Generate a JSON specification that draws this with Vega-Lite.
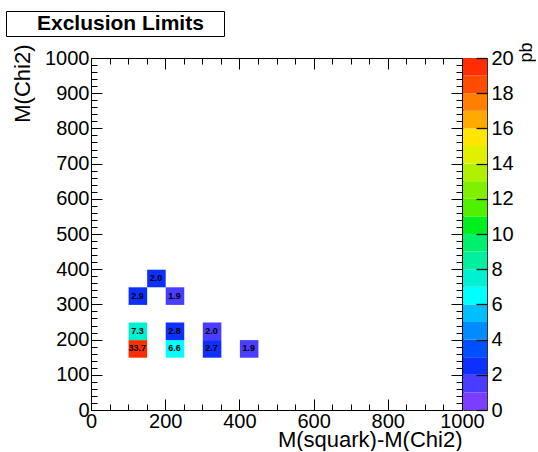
{
  "$schema": "https://vega.github.io/schema/vega-lite/v6.json",
  "background": "white",
  "padding": {"left": 5, "top": 10, "right": 0, "bottom": 0},
  "config": {
    "view": {"stroke": "black", "strokeWidth": 1},
    "font": "Liberation Sans",
    "axis": {
      "grid": false,
      "domain": false,
      "tickColor": "black",
      "tickWidth": 1,
      "labelColor": "black",
      "titleColor": "black",
      "labelFont": "Liberation Sans",
      "titleFont": "Liberation Sans",
      "titleFontWeight": "normal",
      "labelFontSize": 20,
      "titleFontSize": 22,
      "labelOverlap": false,
      "labelFlush": false,
      "format": "d"
    }
  },
  "bounds": "flush",
  "spacing": 1,
  "hconcat": [
    {
      "width": 371,
      "height": 352,
      "view": {"stroke": "black", "strokeWidth": 1},
      "data": {"values": [
        {"mx": 125, "my": 175, "v": 33.7},
        {"mx": 125, "my": 225, "v": 7.3},
        {"mx": 225, "my": 175, "v": 6.6},
        {"mx": 225, "my": 225, "v": 2.8},
        {"mx": 325, "my": 175, "v": 2.7},
        {"mx": 325, "my": 225, "v": 1.97},
        {"mx": 425, "my": 175, "v": 1.9},
        {"mx": 125, "my": 325, "v": 2.9},
        {"mx": 175, "my": 375, "v": 2.03},
        {"mx": 225, "my": 325, "v": 1.9}
      ]},
      "layer": [
        {
          "mark": {"type": "rect", "binSpacing": 0},
          "encoding": {
            "x": {
              "field": "mx", "type": "quantitative",
              "bin": {"step": 50, "extent": [0, 1000]},
              "scale": {"domain": [0, 1000], "nice": false, "zero": false},
              "axis": {
                "orient": "bottom",
                "domain": true,
                "domainColor": "black",
                "title": "M(squark)-M(Chi2)",
                "titleAnchor": "end",
                "titlePadding": -7,
                "values": [0,50,100,150,200,250,300,350,400,450,500,550,600,650,700,750,800,850,900,950,1000],
                "tickSize": {"condition": {"test": "datum.value % 200 === 0", "value": -11}, "value": -6},
                "labelExpr": "datum.value % 200 === 0 ? datum.label : ''",
                "labelPadding": 12
              }
            },
            "y": {
              "field": "my", "type": "quantitative",
              "bin": {"step": 50, "extent": [0, 1000]},
              "scale": {"domain": [0, 1000], "nice": false, "zero": false},
              "axis": {
                "orient": "left",
                "domain": true,
                "domainColor": "black",
                "title": "M(Chi2)",
                "titleAnchor": "end",
                "titleY": -14,
                "titlePadding": 10,
                "values": [0,20,40,60,80,100,120,140,160,180,200,220,240,260,280,300,320,340,360,380,400,420,440,460,480,500,520,540,560,580,600,620,640,660,680,700,720,740,760,780,800,820,840,860,880,900,920,940,960,980,1000],
                "tickSize": {"condition": {"test": "datum.value % 100 === 0", "value": -11}, "value": -6},
                "labelExpr": "datum.value % 100 === 0 ? datum.label : ''",
                "labelPadding": 13
              }
            },
            "color": {
              "field": "v", "type": "quantitative",
              "scale": {
                "type": "threshold",
                "domain": [1,2,3,4,5,6,7,8,9,10,11,12,13,14,15,16,17,18,19],
                "range": ["#7b3dff","#4b3dff","#0d30ff","#0050ff","#008cff","#00bfff","#00ffff","#00f0d2","#00f0a0","#00f06e","#00f01e","#50f000","#80f000","#b0f000","#e0f000","#ffe600","#ffaa00","#ff8000","#ff4c00","#ff2d00"]
              },
              "legend": null
            }
          }
        },
        {
          "mark": {"type": "text", "fontSize": 9, "fontWeight": "bold", "font": "Liberation Sans"},
          "encoding": {
            "x": {
              "field": "mx", "type": "quantitative",
              "scale": {"domain": [0, 1000], "nice": false, "zero": false},
              "axis": {
                "orient": "top",
                "domain": true,
                "domainColor": "black",
                "title": null,
                "labels": false,
                "values": [0,50,100,150,200,250,300,350,400,450,500,550,600,650,700,750,800,850,900,950,1000],
                "tickSize": {"condition": {"test": "datum.value % 200 === 0", "value": -11}, "value": -6}
              }
            },
            "y": {
              "field": "my", "type": "quantitative",
              "scale": {"domain": [0, 1000], "nice": false, "zero": false},
              "axis": {
                "orient": "right",
                "domain": true,
                "domainColor": "black",
                "title": null,
                "labels": false,
                "values": [0,20,40,60,80,100,120,140,160,180,200,220,240,260,280,300,320,340,360,380,400,420,440,460,480,500,520,540,560,580,600,620,640,660,680,700,720,740,760,780,800,820,840,860,880,900,920,940,960,980,1000],
                "tickSize": {"condition": {"test": "datum.value % 100 === 0", "value": -11}, "value": -6}
              }
            },
            "text": {"field": "v", "type": "quantitative", "format": ".1f"},
            "color": {
              "datum": "Exclusion Limits",
              "type": "nominal",
              "scale": {"range": ["black"]},
              "legend": {
                "orient": "none",
                "legendX": -85,
                "legendY": -47,
                "title": "\u00a0",
                "titleOrient": "right",
                "titlePadding": 18,
                "titleFontSize": 21,
                "strokeColor": "black",
                "fillColor": "white",
                "padding": 2,
                "symbolType": "M -1 0 L 1 0",
                "symbolSize": 400,
                "symbolOpacity": 0,
                "symbolStrokeWidth": 0,
                "labelOffset": 8,
                "labelFontSize": 21,
                "labelFontWeight": "bold",
                "labelFont": "Liberation Sans",
                "labelColor": "black",
                "labelLimit": 400
              }
            }
          }
        }
      ],
      "resolve": {"axis": {"x": "independent", "y": "independent"}, "scale": {"color": "independent"}}
    },
    {
      "width": 24,
      "height": 352,
      "view": {"stroke": "#333333", "strokeWidth": 1},
      "data": {"values": [
        {"lo": 0, "hi": 1}, {"lo": 1, "hi": 2}, {"lo": 2, "hi": 3}, {"lo": 3, "hi": 4},
        {"lo": 4, "hi": 5}, {"lo": 5, "hi": 6}, {"lo": 6, "hi": 7}, {"lo": 7, "hi": 8},
        {"lo": 8, "hi": 9}, {"lo": 9, "hi": 10}, {"lo": 10, "hi": 11}, {"lo": 11, "hi": 12},
        {"lo": 12, "hi": 13}, {"lo": 13, "hi": 14}, {"lo": 14, "hi": 15}, {"lo": 15, "hi": 16},
        {"lo": 16, "hi": 17}, {"lo": 17, "hi": 18}, {"lo": 18, "hi": 19}, {"lo": 19, "hi": 20}
      ]},
      "mark": {"type": "rect"},
      "encoding": {
        "y": {
          "field": "lo", "type": "quantitative",
          "scale": {"domain": [0, 20], "nice": false, "zero": false},
          "axis": {
            "orient": "right",
            "zindex": 2,
            "ticks": true,
            "tickColor": "#111111",
            "tickWidth": 1.3,
            "values": [0,2,4,6,8,10,12,14,16,18,20],
            "tickSize": -11,
            "labelPadding": 15,
            "title": "pb",
            "titleFontSize": 18,
            "titleAngle": 270,
            "titleAnchor": "end",
            "titleBaseline": "top",
            "titleY": -16,
            "titlePadding": 4
          }
        },
        "y2": {"field": "hi"},
        "color": {
          "field": "lo", "type": "quantitative",
          "scale": {
            "type": "threshold",
            "domain": [1,2,3,4,5,6,7,8,9,10,11,12,13,14,15,16,17,18,19],
            "range": ["#7b3dff","#4b3dff","#0d30ff","#0050ff","#008cff","#00bfff","#00ffff","#00f0d2","#00f0a0","#00f06e","#00f01e","#50f000","#80f000","#b0f000","#e0f000","#ffe600","#ffaa00","#ff8000","#ff4c00","#ff2d00"]
          },
          "legend": null
        }
      }
    }
  ]
}
